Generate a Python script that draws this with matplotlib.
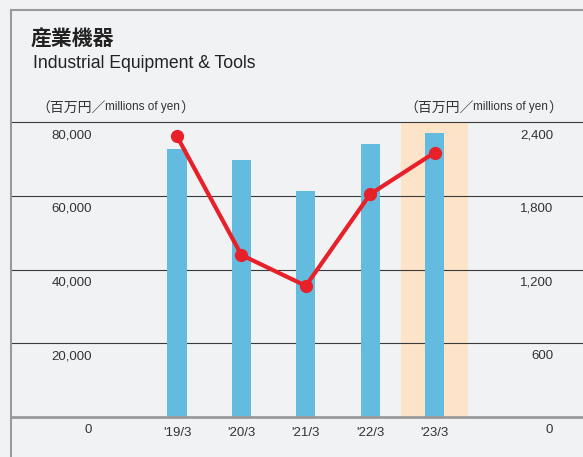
import matplotlib
matplotlib.use("Agg")
import matplotlib.pyplot as plt
from matplotlib import font_manager
from matplotlib.lines import Line2D

# data
years = ["'19/3", "'20/3", "'21/3", "'22/3", "'23/3"]
sales = [72800, 69800, 61200, 73900, 77100]          # bars, left axis (百万円)
profit = [2283, 1318, 1067, 1813, 2151]              # line, right axis
left_ticks = [0, 20000, 40000, 60000, 80000]
right_ticks = [0, 600, 1200, 1800, 2400]
highlight = 4

names = {f.name for f in font_manager.fontManager.ttflist}
narrow = "Liberation Sans Narrow" if "Liberation Sans Narrow" in names else "Liberation Sans"
jp = "Noto Sans CJK JP"
plt.rcParams["font.family"] = [narrow, jp, "DejaVu Sans"]

bg = "#f1f2f4"
W, H = 583, 457
fig = plt.figure(figsize=(W / 100, H / 100), dpi=100, facecolor=bg)

def fx(px):
    return px / W

def fy(py):
    return 1 - py / H

ax = fig.add_axes([fx(11), fy(417), 1 - fx(11), (417 - 122) / H])
ax.set_facecolor(bg)
ax.set_xlim(-2.578, 6.304)
ax.set_ylim(0, 80000)
for s in ax.spines.values():
    s.set_visible(False)
ax.set_xticks([])
ax.set_yticks([])

x = list(range(len(years)))
ax.axvspan(highlight - 0.52, highlight + 0.52, color="#fde4c9", zorder=0, lw=0)
for v in left_ticks[1:]:
    ax.axhline(v, color="#3a3a3a", lw=0.8, zorder=1, clip_on=False)
ax.axhline(0, color="#9a9a9a", lw=2.0, zorder=4, clip_on=False)
ax.bar(x, sales, width=0.3, color="#63bbe0", zorder=2)

ax2 = ax.twinx()
ax2.set_ylim(0, 2400)
for s in ax2.spines.values():
    s.set_visible(False)
ax2.set_yticks([])
ax2.plot(x, profit, color="#e8202a", lw=3, marker="o", ms=8.5, zorder=5)

# tick labels placed under gridlines
for v in left_ticks:
    ax.annotate(f"{v:,}", xy=(fx(92), v), xycoords=(fig.transFigure, ax.transData),
                xytext=(0, -13), textcoords="offset pixels", ha="right", va="center",
                fontsize=9.5, color="#333333")
for v in right_ticks:
    ax2.annotate(f"{v:,}", xy=(fx(553), v), xycoords=(fig.transFigure, ax2.transData),
                 xytext=(0, -13), textcoords="offset pixels", ha="right", va="center",
                 fontsize=9.5, color="#333333")
for i, lab in zip(x, years):
    ax.annotate(lab, xy=(i, 0), xycoords="data", xytext=(0, -16),
                textcoords="offset pixels", ha="center", va="center",
                fontsize=9.5, color="#333333")

# titles
fig.text(fx(31), fy(39), "産業機器", fontsize=15, fontweight="bold",
         family=[jp], va="center", color="#222222")
fig.text(fx(33), fy(64), "Industrial Equipment & Tools", fontsize=12.7,
         va="center", color="#222222")

def unit_label(x0):
    t1 = fig.text(fx(x0), fy(113), "（百万円／", fontsize=10, family=[jp],
                  va="baseline", color="#333333")
    ann = plt.annotate("millions of yen", xy=(1, 0), xycoords=t1, xytext=(0, 3),
                       textcoords="offset pixels", fontsize=8.5, va="bottom",
                       color="#333333", annotation_clip=False)
    plt.annotate("）", xy=(1, 0), xycoords=ann, xytext=(0, -3),
                 textcoords="offset pixels", fontsize=10, family=[jp], va="bottom",
                 color="#333333", annotation_clip=False)

unit_label(36)
unit_label(404)

# frame lines
fig.add_artist(Line2D([fx(11), 1], [fy(10), fy(10)], color="#9a9a9a", lw=1.5))
fig.add_artist(Line2D([fx(11), fx(11)], [fy(10), 0], color="#9a9a9a", lw=1.5))

fig.savefig("out.png", dpi=100, facecolor=bg)
